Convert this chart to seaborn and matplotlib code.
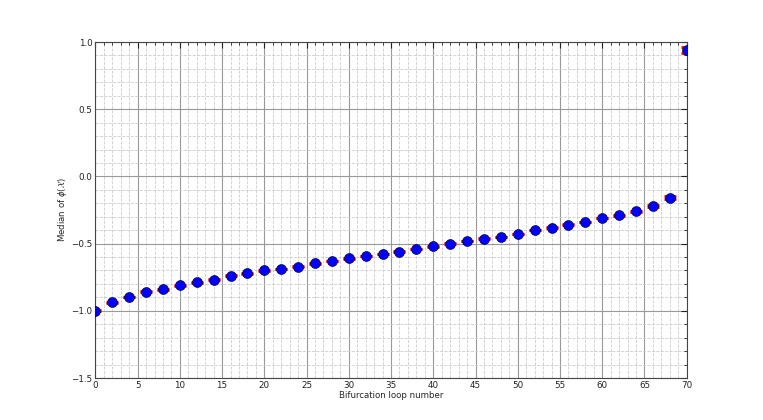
import matplotlib
matplotlib.use("Agg")
import matplotlib.pyplot as plt
import seaborn as sns
import numpy as np
import pandas as pd
from matplotlib.ticker import MultipleLocator

loop_number = [0, 2, 4, 6, 8, 10, 12, 14, 16, 18, 20, 22, 24, 26, 28, 30, 32, 34,
               36, 38, 40, 42, 44, 46, 48, 50, 52, 54, 56, 58, 60, 62, 64, 66, 68, 70]
median_phi = [-1.0, -0.938, -0.898, -0.859, -0.841, -0.809, -0.789, -0.770, -0.740,
              -0.720, -0.700, -0.689, -0.673, -0.648, -0.629, -0.609, -0.592, -0.577,
              -0.559, -0.540, -0.520, -0.500, -0.480, -0.463, -0.451, -0.429, -0.399,
              -0.381, -0.359, -0.340, -0.310, -0.290, -0.260, -0.220, -0.158, 0.938]
error = [0.003, 0.003, 0.003, 0.003, 0.003, 0.003, 0.003, 0.003, 0.003, 0.003,
         0.003, 0.003, 0.003, 0.003, 0.003, 0.003, 0.003, 0.003, 0.003, 0.003,
         0.003, 0.003, 0.003, 0.003, 0.003, 0.003, 0.003, 0.003, 0.003, 0.003,
         0.003, 0.004, 0.004, 0.005, 0.012, 0.022]

df = pd.DataFrame({"x": loop_number, "y": median_phi, "err": error})

sns.set_style("white")
plt.rcParams['font.family'] = ['DejaVu Sans']
plt.rcParams['mathtext.fontset'] = 'dejavusans'
plt.rcParams['axes.unicode_minus'] = True

fig = plt.figure(figsize=(7.63, 4.20), dpi=100)
ax = fig.add_axes([0.125, 0.1, 0.775, 0.8])

ax.errorbar(df["x"], df["y"], yerr=df["err"], fmt='none', ecolor='red',
            elinewidth=1.0, capsize=4.5, capthick=2.0, zorder=3)
sns.scatterplot(data=df, x="x", y="y", ax=ax, color='blue', s=52,
                edgecolor='black', linewidth=0.4, zorder=4)

ax.set_xlim(0, 70)
ax.set_ylim(-1.5, 1.0)
ax.xaxis.set_major_locator(MultipleLocator(5))
ax.xaxis.set_minor_locator(MultipleLocator(1))
ax.yaxis.set_major_locator(MultipleLocator(0.5))
ax.yaxis.set_minor_locator(MultipleLocator(0.1))

ax.grid(which='major', color='#999999', linestyle='-', linewidth=0.8)
ax.grid(which='minor', color='#cccccc', linestyle='--', linewidth=0.6)
ax.set_axisbelow(True)

ax.tick_params(which='both', direction='in', top=True, right=True,
               labelsize=6.3, pad=2, colors='#222222')
ax.tick_params(which='major', length=4)
ax.tick_params(which='minor', length=2)
for s in ax.spines.values():
    s.set_color('#444444')
    s.set_linewidth(0.8)

ax.set_xlabel("Bifurcation loop number", fontsize=6.2, labelpad=1)
ax.set_ylabel(r"Median of $\phi(\mathcal{X})$", fontsize=6.2, labelpad=2)

fig.savefig("out.png", dpi=100)
